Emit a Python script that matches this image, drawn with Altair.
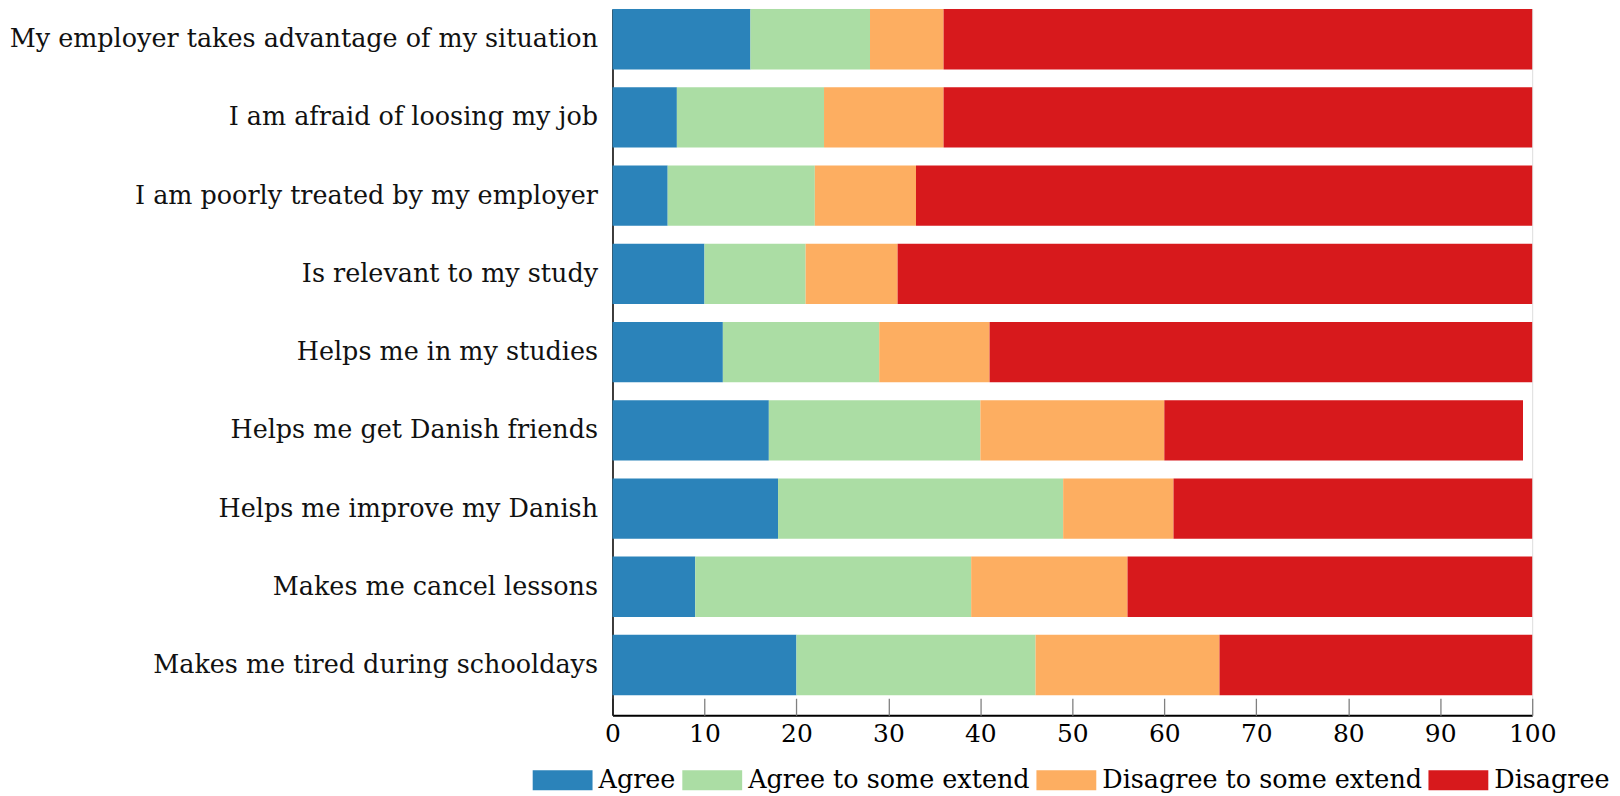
import altair as alt
import pandas as pd

statements = [
    "My employer takes advantage of my situation",
    "I am afraid of loosing my job",
    "I am poorly treated by my employer",
    "Is relevant to my study",
    "Helps me in my studies",
    "Helps me get Danish friends",
    "Helps me improve my Danish",
    "Makes me cancel lessons",
    "Makes me tired during schooldays",
]
responses = ["Agree", "Agree to some extend", "Disagree to some extend", "Disagree"]
agree = [15, 7, 6, 10, 12, 17, 18, 9, 20]
agree_some = [13, 16, 16, 11, 17, 23, 31, 30, 26]
disagree_some = [8, 13, 11, 10, 12, 20, 12, 17, 20]
disagree = [64, 64, 67, 69, 59, 39, 39, 44, 34]
colors = ["#2b83ba", "#abdda4", "#fdae61", "#d7191c"]
x_ticks = list(range(0, 101, 10))

series = [agree, agree_some, disagree_some, disagree]
rows = []
for k, (resp, vals) in enumerate(zip(responses, series)):
    for s, v in zip(statements, vals):
        rows.append({"statement": s, "response": resp, "value": v, "order": k})
df = pd.DataFrame(rows)
ticks_df = pd.DataFrame({"tick": x_ticks})

FONT = "DejaVu Serif"
xscale = alt.Scale(domain=[0, 100], nice=False, zero=True)

bars = alt.Chart(df).mark_bar().encode(
    x=alt.X(
        "value:Q",
        stack="zero",
        scale=xscale,
        axis=alt.Axis(
            values=x_ticks,
            title=None,
            grid=False,
            ticks=False,
            domain=True,
            domainColor="#000000",
            domainWidth=2,
            labelFont=FONT,
            labelFontSize=25,
            labelColor="#000000",
            labelPadding=6,
            labelFlush=False,
            labelOverlap=False,
            orient="bottom",
        ),
    ),
    y=alt.Y(
        "statement:N",
        sort=statements,
        scale=alt.Scale(paddingInner=0.228, paddingOuter=0.1276, align=0),
        axis=alt.Axis(
            title=None,
            ticks=False,
            domain=True,
            domainColor="#000000",
            domainWidth=1.5,
            labelFont=FONT,
            labelFontSize=25.5,
            labelColor="#111111",
            labelPadding=15,
            labelLimit=1000,
        ),
    ),
    color=alt.Color(
        "response:N",
        scale=alt.Scale(domain=responses, range=colors),
        legend=alt.Legend(
            orient="none",
            legendX=-80,
            legendY=743,
            direction="horizontal",
            title=None,
            symbolType="M-1,-0.333H1V0.333H-1Z",
            symbolSize=3600,
            symbolStrokeWidth=0,
            symbolOpacity=1,
            labelFont=FONT,
            labelFontSize=25.5,
            labelColor="#000000",
            labelOffset=6,
            columnPadding=6,
            labelLimit=1000,
        ),
    ),
    order=alt.Order("order:Q"),
)

tick_layer = alt.Chart(ticks_df).mark_rule(opacity=0, strokeWidth=0).encode(
    x=alt.X(
        "tick:Q",
        scale=xscale,
        axis=alt.Axis(
            orient="bottom",
            offset=-17,
            values=x_ticks,
            title=None,
            grid=False,
            domain=False,
            labels=False,
            ticks=True,
            tickSize=17,
            tickColor="#808080",
            tickWidth=1.3,
        ),
    )
)

chart = (
    alt.layer(bars, tick_layer)
    .resolve_axis(x="independent")
    .properties(
        width=922,
        height=708,
        autosize=alt.AutoSizeParams(type="none"),
        padding={"left": 606, "top": 0, "right": 80, "bottom": 80},
    )
    .configure_view(stroke=None)
    .configure(background="white")
)

chart.save("out.html", embed_options={"renderer": "svg", "actions": False})
